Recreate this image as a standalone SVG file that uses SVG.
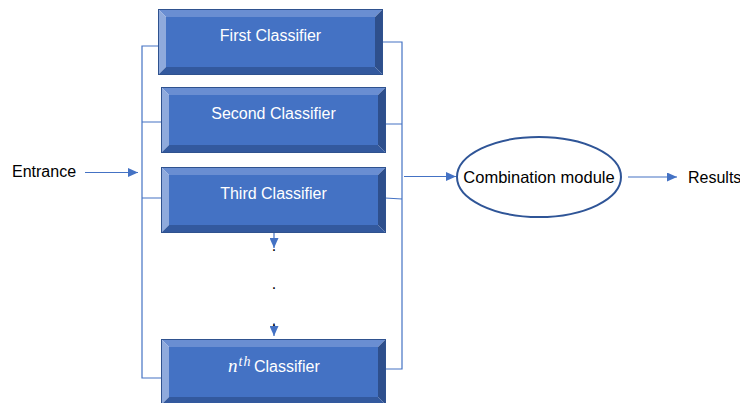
<svg xmlns="http://www.w3.org/2000/svg" xmlns:xlink="http://www.w3.org/1999/xlink" width="740" height="403" viewBox="0 0 740 403">
  <style>
    .lbl { font-family: "Liberation Sans", Arial, sans-serif; font-size: 16px; fill: #000; }
    .boxlbl { font-family: "Liberation Sans", Arial, sans-serif; font-size: 16px; fill: #fff; text-anchor: middle; }
    .conn { stroke: #4472C4; stroke-width: 1.2; fill: none; }
    .arr { stroke: #4472C4; stroke-width: 1.2; fill: none; marker-end: url(#ah); }
    .dot { font-family: "Liberation Sans", Arial, sans-serif; font-size: 16px; fill: #000; text-anchor: middle; }
    .math { font-family: "Liberation Serif", "DejaVu Serif", serif; font-style: italic; fill: #fff; }
  </style>
  <defs>
    <marker id="ah" markerUnits="userSpaceOnUse" markerWidth="10" markerHeight="9" refX="10" refY="4.5" orient="auto">
      <path d="M0,0 L10,4.5 L0,9 z" fill="#4472C4"/>
    </marker>
    <g id="bevelbox">
      <rect x="8" y="8" width="209" height="50" fill="#4472C4"/>
      <polygon points="0,0 225,0 217,8 8,8" fill="#6A8ED2"/>
      <polygon points="0,0 8,8 8,58 0,66" fill="#8FAADC"/>
      <polygon points="225,0 225,66 217,58 217,8" fill="#2E4F8C"/>
      <polygon points="0,66 225,66 217,58 8,58" fill="#33599E"/>
      <rect x="0.5" y="0.5" width="224" height="65" fill="none" stroke="#2F528F" stroke-width="1"/>
    </g>
  </defs>
  <rect width="740" height="403" fill="#fff"/>

  <g id="connectors">
    <line class="arr" x1="85" y1="172.5" x2="138" y2="172.5"/>
    <path class="conn" d="M158,46 H142 V378 H161 M142,122 H161 M142,198 H161"/>
    <path class="conn" d="M382,42 H402 V369 H386 M385,124 H402 M385,198 L402,199"/>
    <line class="arr" x1="404" y1="176.5" x2="456" y2="176.5"/>
    <line class="arr" x1="628" y1="177" x2="677" y2="177"/>
    <line class="arr" x1="274" y1="233" x2="274" y2="248"/>
    <line class="arr" x1="274" y1="323" x2="274" y2="336"/>
  </g>

  <g id="entrance">
    <text class="lbl" x="12" y="177">Entrance</text>
  </g>

  <g id="first">
    <use xlink:href="#bevelbox" href="#bevelbox" transform="translate(158,9)"/>
    <text class="boxlbl" x="270.5" y="41">First Classifier</text>
  </g>
  <g id="second">
    <use xlink:href="#bevelbox" href="#bevelbox" transform="translate(161,87)"/>
    <text class="boxlbl" x="273.5" y="119">Second Classifier</text>
  </g>
  <g id="third">
    <use xlink:href="#bevelbox" href="#bevelbox" transform="translate(161,167)"/>
    <text class="boxlbl" x="273.5" y="199">Third Classifier</text>
  </g>
  <g id="dots">
    <text class="dot" x="274" y="250.5">.</text>
    <text class="dot" x="274" y="288.5">.</text>
    <text class="dot" x="274" y="325.5">.</text>
  </g>
  <g id="nth">
    <use xlink:href="#bevelbox" href="#bevelbox" transform="translate(161,339)"/>
    <text class="math" x="228" y="372"><tspan font-size="19px">n</tspan><tspan x="238.5" dy="-6" font-size="14px" letter-spacing="1.2">th</tspan></text>
    <text class="lbl" x="254" y="372" style="fill:#fff">Classifier</text>
  </g>

  <g id="combination">
    <ellipse cx="539" cy="177" rx="82" ry="40" fill="#fff" stroke="#2F5597" stroke-width="2"/>
    <text class="lbl" x="539" y="183" text-anchor="middle" style="font-size:16.5px">Combination module</text>
  </g>

  <g id="results">
    <text class="lbl" x="688" y="183">Results</text>
  </g>
</svg>
